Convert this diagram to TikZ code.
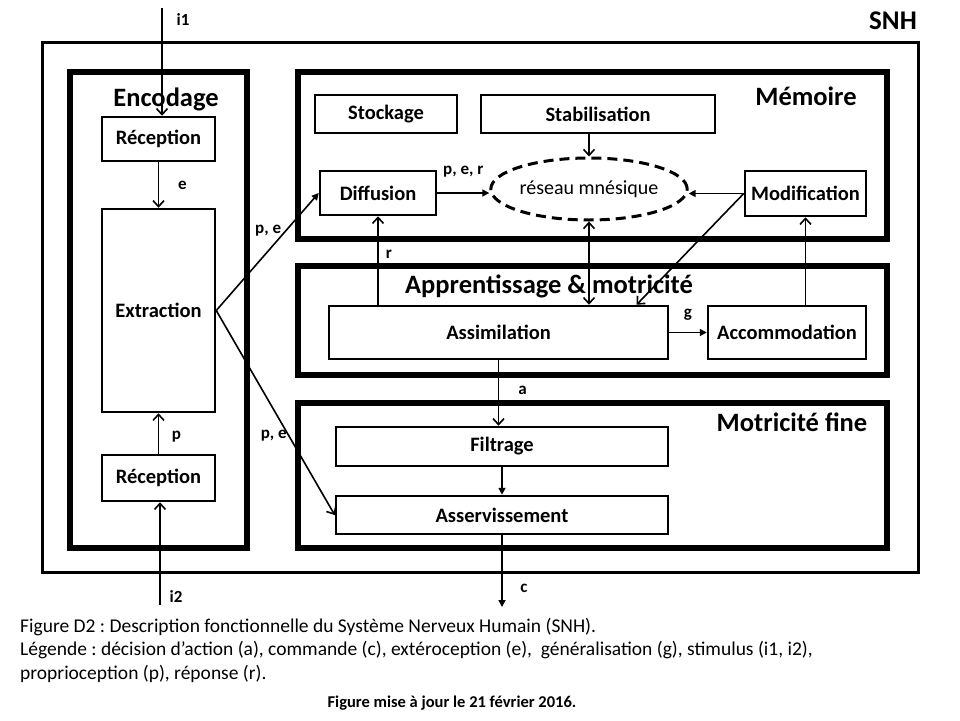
\documentclass[tikz,border=0pt]{standalone}
\usepackage{fontspec}
\setmainfont{Carlito}
\frenchspacing
\usetikzlibrary{arrows.meta,positioning,shapes.geometric}
\tikzset{>={Straight Barb[length=6pt,width=11pt]},
    boite/.style={rectangle, draw=black, line width=2.5pt, inner sep=0pt,
                    font=\fontsize{20.5}{24}\selectfont\bfseries},
    groupe/.style={rectangle, draw=black, line width=6pt, inner sep=0pt},
    titre/.style={anchor=base, inner sep=0pt, font=\fontsize{26.5}{30}\selectfont\bfseries},
    etiq/.style={inner sep=0pt, font=\fontsize{17}{20}\selectfont\bfseries},
    pil/.style={->, line width=1.6pt},
    plein/.style={-{Triangle[length=7pt,width=7pt]}, line width=1.6pt}}

\begin{document}
\begin{tikzpicture}[x=1pt, y=-1pt]
            \useasboundingbox (0,0) rectangle (960,720);
            \node[draw, line width=3pt, minimum width=876, minimum height=530]
                (snh) at (480,307) {};
            \node[titre, font=\fontsize{27}{30}\selectfont\bfseries] at (893,29) {SNH};

            \node[groupe, minimum width=177, minimum height=476]
                (encodage) at (158.5,310) {};
            \node[titre] at (166,106) {Encodage};
            \node[boite, minimum width=113, minimum height=44]
                (reception1) at (158.5,139) {Réception};
            \node[boite, minimum width=113, minimum height=203]
                (extraction) at (158.5,310.5) {Extraction};
            \node[boite, minimum width=113, minimum height=46]
                (reception2) at (158.5,478) {Réception};

            \node[groupe, minimum width=589, minimum height=167]
                (memoire) at (592.5,155.5) {};
            \node[titre] at (806,105) {Mémoire};
            \node[boite, minimum width=142, minimum height=38]
                (stockage) at (386,114) {Stockage};
            \node[boite, minimum width=234, minimum height=38]
                (stabilisation) at (598,114) {Stabilisation};
            \node[boite, minimum width=116, minimum height=44]
                (diffusion) at (378,193) {Diffusion};
            \node[ellipse, draw=black, line width=3pt, dash pattern=on 10pt off 6pt,
                  minimum width=172, minimum height=62, inner sep=0pt,
                  font=\fontsize{20}{24}\selectfont]
                (reseau) at (589,189) {réseau mnésique};
            \node[boite, minimum width=121, minimum height=45]
                (modification) at (805.5,193.5) {Modification};

            \node[groupe, minimum width=589, minimum height=109]
                (apprentissage) at (592.5,320.5) {};
            \node[titre] at (549,293) {Apprentissage \& motricité};
            \node[boite, minimum width=339, minimum height=53]
                (assimilation) at (498.5,332.5) {Assimilation};
            \node[boite, minimum width=158, minimum height=53]
                (accommodation) at (787,332.5) {Accommodation};

            \node[groupe, minimum width=589, minimum height=145]
                (motricite) at (592.5,475.5) {};
            \node[titre] at (792,431) {Motricité fine};
            \node[boite, minimum width=332, minimum height=39]
                (filtrage) at (502,446.5) {Filtrage};
            \node[boite, minimum width=332, minimum height=38]
                (asservissement) at (502,515) {Asservissement};

            \coordinate (entree1) at (162,8);
            \coordinate (entree2) at (160,605);
            \coordinate (sortie) at (502,607);

            \draw[pil] (entree1) -- (entree1 |- reception1.north)
                node[etiq, pos=.11, xshift=21pt] {i1};
            \draw[pil] (reception1) -- (extraction)
                node[etiq, midway, xshift=24pt] {e};
            \draw[pil] (reception2) -- (extraction)
                node[etiq, midway, xshift=18pt, yshift=-3pt] {p};
            \draw[pil] (entree2) -- (entree2 |- reception2.south)
                node[etiq, pos=.08, xshift=16pt] {i2};

            \draw[plein] (extraction.east) -- (diffusion.west)
                node[etiq, pos=.68, anchor=east, xshift=-4pt] {p, e};
            \draw[pil] (extraction.east) -- (asservissement.west)
                node[etiq, pos=.61, anchor=east, xshift=-1pt] {p, e};

            \draw[plein] (diffusion.east) -- (diffusion.east -| reseau.west)
                node[etiq, midway, yshift=21pt] {p, e, r};
            \draw[pil] (reseau.north |- stabilisation.south) -- (reseau.north);
            \draw[plein] (modification.west) -- (modification.west -| reseau.east);
            \draw[pil] (modification.west) -- ([xshift=138pt]assimilation.north);
            \draw[pil, <->] (reseau.south) -- (reseau.south |- assimilation.north);
            \draw[pil] (diffusion.south |- assimilation.north) -- (diffusion.south)
                node[etiq, pos=.57, xshift=11pt] {r};
            \draw[pil] (modification.south |- accommodation.north) -- (modification.south);
            \draw[plein] (assimilation.east) -- (accommodation.west)
                node[etiq, midway, yshift=18pt] {g};

            \draw[pil] (assimilation.south) -- (assimilation.south |- filtrage.north)
                node[etiq, midway, xshift=24pt, yshift=3pt] {a};
            \draw[plein] (filtrage) -- (asservissement);
            \draw[plein] (asservissement.south) -- (sortie)
                node[etiq, pos=.74, xshift=22pt] {c};

            \node[anchor=north west, inner sep=0pt, align=left,
                  font=\fontsize{19.5}{23.5}\selectfont]
                (legende) at (20,618)
                {Figure D2 : Description fonctionnelle du Système Nerveux Humain (SNH).\\
                 Légende : décision d’action (a), commande (c), extéroception (e),\ \ généralisation (g), stimulus (i1, i2),\\
                 proprioception (p), réponse (r).};
            \node[anchor=base, inner sep=0pt, font=\fontsize{16.5}{18}\selectfont\bfseries]
                (miseajour) at (452,707) {Figure mise à jour le 21 février 2016.};
        \end{tikzpicture}
\end{document}
